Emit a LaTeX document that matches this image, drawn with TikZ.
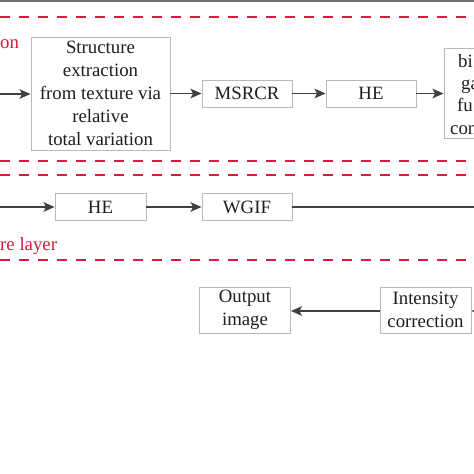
\documentclass[tikz,border=0pt]{standalone}
\usepackage{fontspec}
\setmainfont{Liberation Serif}
\usetikzlibrary{arrows.meta}
\definecolor{boxgray}{RGB}{185,185,185}
\definecolor{arrgray}{RGB}{60,66,66}
\definecolor{dashred}{RGB}{214,28,62}
\definecolor{topgray}{RGB}{112,112,112}
\definecolor{txt}{RGB}{30,30,30}
\tikzset{
  procbox/.style={draw=boxgray, line width=0.9pt, fill=white, inner sep=0pt, align=center,
    text=txt, font=\fontsize{18.8}{23}\selectfont},
  flow/.style={draw=arrgray, line width=1.6pt, -{Stealth[length=11pt,width=9.5pt,inset=2.5pt]}},
  plainflow/.style={draw=arrgray, line width=1.3pt},
  sep/.style={draw=dashred, line width=1.8pt, dash pattern=on 10pt off 9pt},
  redlabel/.style={text=dashred, font=\fontsize{18.8}{23}\selectfont, inner sep=0pt},
  parttext/.style={text=txt, font=\fontsize{18.8}{23}\selectfont, inner sep=0pt, anchor=base west},
}
\begin{document}
\begin{tikzpicture}[x=1pt,y=-1pt]
\useasboundingbox (0,0) rectangle (474,474);
\clip (0,0) rectangle (474,474);
\fill[white] (0,0) rectangle (474,474);
% top border
\draw[topgray, line width=3pt] (0,0.8) -- (474,0.8);
% red separators
\draw[sep] (0,17) -- (474,17);
\draw[sep] (0,161) -- (474,161);
\draw[sep] (0,175) -- (474,175);
\draw[sep] (0,260) -- (474,260);
% red labels
\node[redlabel, anchor=base west] (lab1) at (0,48) {on};
\node[redlabel, anchor=base west] (lab2) at (0,250) {re layer};
% top row
\node[procbox, minimum width=139pt, minimum height=113pt] (sr) at (100.5,93.5)
  {Structure\\extraction\\from texture via\\relative\\total variation};
\node[procbox, minimum width=90pt, minimum height=27pt] (msrcr) at (247,93.5) {MSRCR};
\node[procbox, minimum width=90pt, minimum height=27pt] (he1) at (371,93.5) {HE};
\node[procbox, minimum width=90pt, minimum height=90pt] (bgf) at (489,93) {};
\node[parttext] (t1) at (458,67) {bi};
\node[parttext] (t2) at (461,89) {ga};
\node[parttext] (t3) at (457,111) {fu};
\node[parttext] (t4) at (450,134) {con};
\coordinate (in1) at (0,94);
\draw[flow] (in1) -- (sr.west |- in1);
\draw[flow] (sr.east |- msrcr) -- (msrcr.west);
\draw[flow] (msrcr) -- (he1);
\draw[flow] (he1.east) -- (bgf.west |- he1);
% middle row
\node[procbox, minimum width=91pt, minimum height=27pt] (he2) at (100.5,207) {HE};
\node[procbox, minimum width=90pt, minimum height=27pt] (wgif) at (247,207) {WGIF};
\coordinate (in2) at (0,207);
\coordinate (out2) at (480,207);
\draw[flow] (in2) -- (he2.west);
\draw[flow] (he2) -- (wgif);
\draw[plainflow] (wgif.east) -- (out2);
% bottom row
\node[procbox, minimum width=91pt, minimum height=46pt] (outimg) at (245,310) {Output\\image};
\node[procbox, minimum width=91pt, minimum height=46pt] (ic) at (425.5,310) {Intensity\\correction};
\coordinate (in3) at (495,311);
\draw[flow] (ic.west |- 0,311) -- (outimg.east |- 0,311);
\draw[flow] (in3) -- (ic.east |- in3);
\end{tikzpicture}
\end{document}
